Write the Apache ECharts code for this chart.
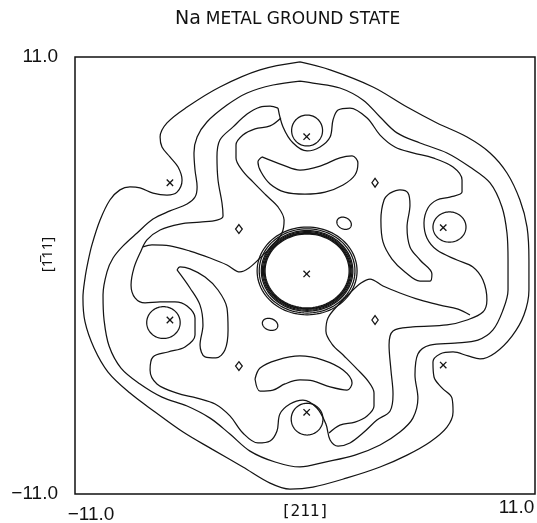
<!DOCTYPE html>
<html>
<head>
<meta charset="utf-8">
<script src="https://cdn.jsdelivr.net/npm/echarts/dist/echarts.min.js"></script>
<style>
html, body { margin: 0; padding: 0; background: #fff; }
#chart { width: 537px; height: 523px; }
</style>
</head>
<body>
<div id="chart"></div>
<script>
// Na metal ground-state valence density, contour map in the (211)/(-111) plane.
// All contour paths are given in plane coordinates (same units as the axes).

const axisRange = [-11, 11];
const tickLabels = ['\u221211.0', '11.0'];
const xAxisName = '[211]';
const yAxisName = '[1\u030511]';

// outermost density contour
const contourOuter = [
  [-0.24,10.75],[1.20,10.35],[3.25,9.49],[4.88,8.48],[6.31,7.68],[7.75,6.97],[8.85,6.17],[9.66,5.16],
  [10.28,3.80],[10.62,2.44],[10.71,0.78],[10.71,-0.73],[10.47,-1.99],[9.90,-3.05],[9.09,-3.90],[8.37,-4.20],
  [7.80,-4.05],[7.08,-3.85],[6.46,-3.95],[6.12,-4.36],[6.17,-5.11],[6.55,-5.66],[7.03,-6.17],[7.08,-6.87],
  [6.79,-7.63],[5.98,-8.38],[4.88,-9.04],[3.59,-9.64],[2.01,-10.19],[0.38,-10.65],[-0.72,-10.75],[-1.67,-10.45],
  [-2.97,-9.64],[-4.45,-8.74],[-5.83,-7.88],[-7.17,-6.87],[-8.37,-5.92],[-9.42,-4.86],[-10.09,-3.65],[-10.52,-2.34],
  [-10.62,-1.13],[-10.52,-0.13],[-10.38,0.68],[-10.19,1.54],[-9.80,2.79],[-9.33,3.80],[-8.85,4.31],[-8.37,4.46],
  [-7.89,4.41],[-7.27,4.15],[-6.60,4.05],[-6.12,4.20],[-5.88,4.81],[-6.07,5.46],[-6.46,5.97],[-6.84,6.47],
  [-6.93,6.97],[-6.60,7.68],[-5.64,8.48],[-4.07,9.49],[-2.15,10.35],[-0.24,10.75]
];

// second contour
const contourSecond = [
  [-0.24,9.79],[0.38,9.69],[1.67,9.44],[2.77,8.84],[3.59,7.98],[4.40,7.18],[5.50,6.67],[6.79,6.17],
  [7.89,5.46],[8.85,4.66],[9.42,3.45],[9.66,2.14],[9.71,0.78],[9.71,-0.73],[9.47,-1.74],[8.99,-2.74],
  [8.27,-3.25],[7.17,-3.40],[5.98,-3.50],[5.40,-3.95],[5.26,-5.01],[5.40,-6.17],[5.16,-7.18],[4.54,-7.88],
  [3.59,-8.53],[2.39,-9.04],[0.96,-9.39],[-0.24,-9.64],[-1.43,-9.39],[-2.63,-8.84],[-3.59,-7.98],[-4.54,-7.18],
  [-5.64,-6.57],[-6.84,-6.12],[-7.89,-5.46],[-8.80,-4.66],[-9.37,-3.55],[-9.61,-2.24],[-9.66,-0.98],[-9.47,0.18],
  [-9.18,0.88],[-8.70,1.49],[-8.03,2.14],[-7.27,2.84],[-6.46,3.25],[-5.64,3.60],[-5.26,3.95],[-5.16,4.46],
  [-5.26,5.31],[-5.31,6.17],[-5.16,6.97],[-4.69,7.73],[-3.73,8.58],[-2.77,9.19],[-1.53,9.59],[-0.24,9.79]
];

// third contour, looping round the four nearest neighbours
const contourThird = [
  [-1.29,8.43],[-1.05,7.48],[-0.57,6.67],[0.10,6.27],[0.72,6.47],[1.20,6.97],[1.34,7.83],[1.58,8.33],
  [2.15,8.43],[2.97,7.93],[3.59,7.07],[4.30,6.47],[5.16,6.17],[6.12,5.92],[7.08,5.46],[7.51,4.81],
  [7.51,4.20],[6.93,3.95],[6.31,3.80],[5.88,3.40],[5.69,2.64],[5.83,1.89],[6.31,1.28],[7.27,0.78],
  [8.03,0.43],[8.51,-0.23],[8.70,-1.23],[8.51,-1.84],[7.75,-2.24],[6.79,-2.49],[5.16,-2.59],[4.21,-2.79],
  [4.02,-3.50],[4.11,-4.76],[4.21,-5.97],[4.07,-6.82],[3.44,-7.28],[2.77,-7.93],[2.15,-8.43],[1.58,-8.59],
  [1.20,-8.28],[1.00,-7.48],[0.57,-6.67],[-0.10,-6.27],[-0.72,-6.47],[-1.20,-6.97],[-1.34,-7.83],[-1.67,-8.33],
  [-2.25,-8.43],[-2.97,-7.93],[-3.59,-7.07],[-4.30,-6.47],[-5.16,-6.17],[-6.12,-5.92],[-7.08,-5.46],[-7.41,-4.76],
  [-7.27,-4.10],[-6.55,-3.85],[-5.74,-3.60],[-5.26,-3.00],[-5.26,-2.14],[-5.64,-1.54],[-6.22,-1.33],[-6.93,-1.33],
  [-7.65,-1.38],[-8.13,-1.13],[-8.32,-0.48],[-8.18,0.38],[-7.89,1.13],[-7.56,1.79],[-6.93,2.29],[-5.98,2.59],
  [-5.02,2.69],[-4.21,2.79],[-3.92,3.00],[-3.97,3.65],[-4.16,4.81],[-4.21,5.97],[-4.07,6.82],[-3.44,7.48],
  [-2.77,8.13],[-2.15,8.48],[-1.67,8.53],[-1.29,8.43]
];

// inner branches that dip toward the core along the two open diagonals
const branchUpperLeft = [
  [-1.15,7.93],[-1.67,7.53],[-2.39,7.38],[-2.97,7.07],[-3.30,6.57],[-3.30,5.92],[-3.01,5.31],[-2.49,4.71],
  [-1.87,4.05],[-1.29,3.45],[-1.00,2.79],[-1.10,2.14],[-1.58,1.49],[-2.15,0.88],[-2.68,0.38],[-3.11,0.18],
  [-3.73,0.53],[-4.54,0.88],[-5.50,1.23],[-6.46,1.49],[-7.32,1.54],[-7.75,1.44]
];
const branchLowerRight = [
  [1.15,-7.93],[1.67,-7.53],[2.39,-7.38],[2.97,-7.07],[3.30,-6.57],[3.30,-5.92],[3.01,-5.31],[2.49,-4.71],
  [1.87,-4.05],[1.29,-3.45],[1.00,-2.79],[1.10,-2.14],[1.58,-1.49],[2.15,-0.88],[2.68,-0.38],[3.11,-0.18],
  [3.73,-0.53],[4.54,-0.88],[5.50,-1.23],[6.46,-1.49],[7.32,-1.69],[7.89,-1.99]
];

// crescent-shaped maxima between the core and the neighbours
const crescentTop = [
  [-2.06,5.97],[-1.05,5.56],[-0.24,5.31],[0.72,5.51],[1.67,5.92],[2.25,6.02],[2.53,5.66],[2.39,5.06],
  [1.82,4.56],[0.96,4.20],[0.00,4.10],[-0.96,4.20],[-1.67,4.61],[-2.10,5.21],[-2.25,5.72],[-2.06,5.97]
];
const crescentRight = [
  [4.07,4.15],[4.54,4.31],[4.93,4.15],[5.02,3.55],[4.88,2.44],[5.02,1.44],[5.50,0.78],[6.07,0.08],
  [5.98,-0.28],[5.50,-0.28],[4.78,0.18],[4.16,0.83],[3.73,1.69],[3.63,2.79],[3.78,3.80],[4.07,4.15]
];
const crescentBottom = [
  [-2.39,-5.21],[-2.15,-4.66],[-1.34,-4.26],[-0.24,-4.05],[0.86,-4.26],[1.82,-4.76],[2.25,-5.41],[2.01,-5.77],
  [1.20,-5.61],[0.38,-5.31],[-0.24,-5.26],[-0.96,-5.46],[-1.53,-5.77],[-2.15,-5.82],[-2.39,-5.21]
];
const crescentLeft = [
  [-6.12,0.28],[-5.50,-0.63],[-5.02,-1.49],[-4.88,-2.49],[-5.02,-3.50],[-4.78,-4.10],[-4.26,-4.15],[-3.83,-3.75],
  [-3.68,-2.74],[-3.73,-1.64],[-4.16,-0.73],[-4.78,-0.08],[-5.50,0.33],[-5.98,0.43],[-6.12,0.28]
];

// closed loops: [centre x, centre y, half-width, half-height, tilt in degrees]
const neighbourLoops = [
  [0.10,7.30,0.74,0.78,0],[6.91,2.44,0.79,0.76,0],[0.10,-7.23,0.76,0.80,0],[-6.77,-2.37,0.80,0.80,0]
];
const coreRings = [
  [0.10,0.23,2.39,2.21,0],[0.10,0.23,2.29,2.12,0],[0.10,0.23,2.19,2.03,0],[0.10,0.23,2.14,1.98,0],
  [0.10,0.23,2.09,1.93,0],[0.10,0.23,2.05,1.90,0],[0.10,0.23,2.01,1.86,0]
];
const smallLobes = [
  [1.87,2.63,0.36,0.29,25],[-1.67,-2.46,0.38,0.29,20]
];
// small diamond-shaped minima: [centre x, centre y, half-width, half-height]
const diamonds = [
  [-3.16,2.34,0.16,0.22],[3.35,4.67,0.15,0.22],[-3.16,-4.56,0.16,0.22],[3.35,-2.24,0.15,0.22]
];
// nuclear positions
const atomSites = [
  [0.08,0.08],[0.08,6.99],[0.08,-6.89],[6.61,2.41],[-6.46,-2.24],[-6.46,4.67],[6.61,-4.51]
];

const INK = '#141414';
const LINE_W = 1.25;

function contourSeries(name, pts) {
  return {
    name: name, type: 'line', data: pts, smooth: 0.35, symbol: 'none',
    lineStyle: { color: INK, width: LINE_W }, silent: true, animation: false, z: 3
  };
}

function ellipseItem(params, api) {
  const c = api.coord([api.value(0), api.value(1)]);
  const s = api.size([api.value(2), api.value(3)]);
  const rot = (api.value(4) || 0) * Math.PI / 180;
  const pts = [];
  for (let k = 0; k <= 96; k++) {
    const t = k / 96 * 2 * Math.PI;
    const ex = s[0] * Math.cos(t), ey = s[1] * Math.sin(t);
    pts.push([c[0] + ex * Math.cos(rot) - ey * Math.sin(rot), c[1] + ex * Math.sin(rot) + ey * Math.cos(rot)]);
  }
  return { type: 'polygon', shape: { points: pts }, style: { fill: 'none', stroke: INK, lineWidth: LINE_W } };
}

function diamondItem(params, api) {
  const c = api.coord([api.value(0), api.value(1)]);
  const s = api.size([api.value(2), api.value(3)]);
  return {
    type: 'polygon',
    shape: { points: [[c[0], c[1] - s[1]], [c[0] + s[0], c[1]], [c[0], c[1] + s[1]], [c[0] - s[0], c[1]]] },
    style: { fill: 'none', stroke: INK, lineWidth: LINE_W }
  };
}

function crossItem(params, api) {
  const c = api.coord([api.value(0), api.value(1)]);
  const h = 3.2;
  return {
    type: 'group',
    children: [
      { type: 'line', shape: { x1: c[0] - h, y1: c[1] - h, x2: c[0] + h, y2: c[1] + h }, style: { stroke: INK, lineWidth: 1.3 } },
      { type: 'line', shape: { x1: c[0] - h, y1: c[1] + h, x2: c[0] + h, y2: c[1] - h }, style: { stroke: INK, lineWidth: 1.3 } }
    ]
  };
}

function customSeries(data, renderItem) {
  return {
    type: 'custom', data: data, renderItem: renderItem, encode: { x: 0, y: 1 },
    silent: true, animation: false, z: 4, clip: true
  };
}

const labelFont = { fontFamily: 'Liberation Sans', fontSize: 19, color: '#111' };

const chart = echarts.init(document.getElementById('chart'), null, { renderer: 'canvas' });
chart.setOption({
  backgroundColor: '#ffffff',
  animation: false,
  title: {
    text: '{a|Na} {b|METAL GROUND STATE}',
    left: 170, top: 5,
    textStyle: {
      fontWeight: 'normal',
      rich: {
        a: { fontFamily: 'DejaVu Sans', fontSize: 19, fontWeight: 'normal', color: '#111' },
        b: { fontFamily: 'DejaVu Sans', fontSize: 17, fontWeight: 'normal', color: '#111' }
      }
    }
  },
  grid: {
    left: 75, right: 2, top: 57, bottom: 29, containLabel: false, outerBoundsMode: 'none',
    show: true, borderColor: '#111', borderWidth: 1.5, backgroundColor: 'transparent'
  },
  xAxis: {
    type: 'value', min: axisRange[0], max: axisRange[1], interval: 11,
    axisLine: { show: false }, axisTick: { show: false }, splitLine: { show: false },
    name: xAxisName, nameLocation: 'middle', nameGap: 10, nameMoveOverlap: false,
    nameTextStyle: { fontFamily: 'DejaVu Sans Mono', fontSize: 16, color: '#111' },
    axisLabel: {
      margin: 4,
      formatter: function (v) {
        if (v === axisRange[0]) return '{l|' + tickLabels[0] + '}';
        if (v === axisRange[1]) return '{r|' + tickLabels[1] + '}';
        return '';
      },
      rich: {
        l: Object.assign({ padding: [7, 0, 0, 32] }, labelFont),
        r: Object.assign({ padding: [0, 37, 0, 0] }, labelFont)
      }
    }
  },
  yAxis: {
    type: 'value', min: axisRange[0], max: axisRange[1], interval: 11,
    axisLine: { show: false }, axisTick: { show: false }, splitLine: { show: false },
    name: yAxisName, nameLocation: 'middle', nameGap: 20, nameRotate: 90, nameMoveOverlap: false,
    nameTextStyle: { fontFamily: 'Noto Sans', fontSize: 15, color: '#111', padding: [0, 0, 0, 42] },
    axisLabel: {
      margin: 17,
      formatter: function (v) {
        if (v === axisRange[0]) return tickLabels[0];
        if (v === axisRange[1]) return tickLabels[1];
        return '';
      },
      fontFamily: 'Liberation Sans', fontSize: 19, color: '#111'
    }
  },
  series: [
    contourSeries('outer', contourOuter),
    contourSeries('second', contourSecond),
    contourSeries('third', contourThird),
    contourSeries('branchUpperLeft', branchUpperLeft),
    contourSeries('branchLowerRight', branchLowerRight),
    contourSeries('crescentTop', crescentTop),
    contourSeries('crescentRight', crescentRight),
    contourSeries('crescentBottom', crescentBottom),
    contourSeries('crescentLeft', crescentLeft),
    customSeries(neighbourLoops, ellipseItem),
    customSeries(coreRings, ellipseItem),
    customSeries(smallLobes, ellipseItem),
    customSeries(diamonds, diamondItem),
    customSeries(atomSites, crossItem)
  ]
});
</script>
</body>
</html>
